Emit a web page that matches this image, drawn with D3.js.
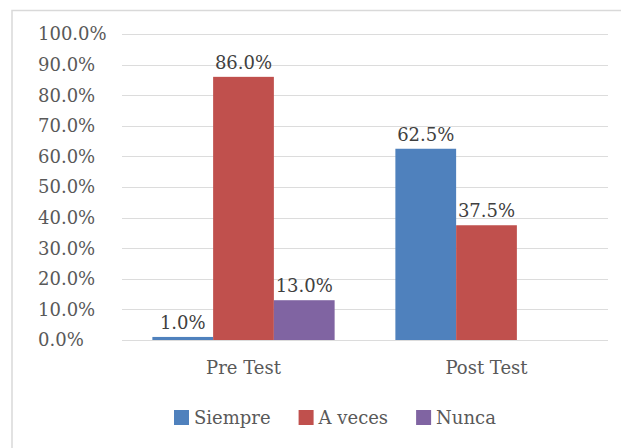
<!DOCTYPE html>
<html>
<head>
<meta charset="utf-8">
<script src="https://cdn.jsdelivr.net/npm/d3@7"></script>
<style>
  body { margin: 0; background: #fff; }
  svg { display: block; }
  text { font-family: "DejaVu Serif", serif; }
</style>
</head>
<body>
<div id="chart"></div>
<script>
// Data
const categories = ['Pre Test', 'Post Test'];
const seriesNames = ['Siempre', 'A veces', 'Nunca'];
const siempre = [1.0, 62.5];
const aVeces = [86.0, 37.5];
const nunca = [13.0, 0];
const yTicks = [0, 10, 20, 30, 40, 50, 60, 70, 80, 90, 100];
const colors = ['#4F81BD', '#C0504D', '#8064A2'];

const seriesValues = [siempre, aVeces, nunca];

const W = 621, H = 448;
const MARGIN = { left: 122, right: 13, top: 34, bottom: 108 };
const width = W - MARGIN.left - MARGIN.right;
const height = H - MARGIN.top - MARGIN.bottom;

const svg = d3.select('#chart').append('svg')
    .attr('width', W)
    .attr('height', H);

// Chart area border (right/bottom edges run off the picture)
svg.append('rect')
    .attr('x', 12)
    .attr('y', 10.5)
    .attr('width', 700)
    .attr('height', 600)
    .attr('fill', '#fff')
    .attr('stroke', '#d9d9d9')
    .attr('stroke-width', 1.5);

const g = svg.append('g')
    .attr('transform', `translate(${MARGIN.left},${MARGIN.top})`);

// Scales
const x0 = d3.scaleBand()
    .domain(categories)
    .range([0, width])
    .paddingInner(0)
    .paddingOuter(0);

const x1 = d3.scaleBand()
    .domain(seriesNames)
    .range([0, x0.bandwidth()])
    .paddingOuter(0.5)
    .paddingInner(0);

const y = d3.scaleLinear()
    .domain([0, 100])
    .range([height, 0]);

// Grid lines
g.append('g')
    .selectAll('line')
    .data(yTicks)
    .enter().append('line')
    .attr('x1', 0)
    .attr('x2', width)
    .attr('y1', d => Math.round(y(d)) + 0.5)
    .attr('y2', d => Math.round(y(d)) + 0.5)
    .attr('stroke', '#dcdcdc')
    .attr('stroke-width', 1.2);

// Y labels (left aligned like the original)
g.append('g')
    .selectAll('text')
    .data(yTicks)
    .enter().append('text')
    .attr('x', 38 - MARGIN.left)
    .attr('y', d => y(d))
    .attr('dy', '0.36em')
    .attr('font-size', '18px')
    .attr('fill', '#595959')
    .text(d => d.toFixed(1) + '%');

// Bars
const rows = categories.map((c, i) => ({
    cat: c,
    values: seriesNames.map((s, j) => ({ key: s, value: seriesValues[j][i], color: colors[j] }))
}));

const groups = g.selectAll('.group')
    .data(rows)
    .enter().append('g')
    .attr('class', 'group')
    .attr('transform', d => `translate(${x0(d.cat)},0)`);

groups.selectAll('rect')
    .data(d => d.values)
    .enter().append('rect')
    .attr('x', d => x1(d.key))
    .attr('y', d => y(d.value))
    .attr('width', x1.bandwidth())
    .attr('height', d => height - y(d.value))
    .attr('fill', d => d.color);

// Data labels
groups.selectAll('.label')
    .data(d => d.values.filter(v => v.value > 0))
    .enter().append('text')
    .attr('class', 'label')
    .attr('x', d => x1(d.key) + x1.bandwidth() / 2)
    .attr('y', d => y(d.value) - 8)
    .attr('text-anchor', 'middle')
    .attr('font-size', '18px')
    .attr('fill', '#404040')
    .text(d => d.value.toFixed(1) + '%');

// X labels
g.append('g')
    .selectAll('text')
    .data(categories)
    .enter().append('text')
    .attr('x', d => x0(d) + x0.bandwidth() / 2)
    .attr('y', height + 34)
    .attr('text-anchor', 'middle')
    .attr('font-size', '18px')
    .attr('fill', '#595959')
    .text(d => d);

// Legend
const legend = svg.append('g')
    .attr('transform', 'translate(174, 410)');

let lx = 0;
seriesNames.forEach((s, i) => {
    const item = legend.append('g')
        .attr('transform', `translate(${lx},0)`);
    item.append('rect')
        .attr('width', 15)
        .attr('height', 15)
        .attr('fill', colors[i]);
    const t = item.append('text')
        .attr('x', 20)
        .attr('y', 8)
        .attr('dy', '0.36em')
        .attr('font-size', '18px')
        .attr('fill', '#595959')
        .text(s);
    lx += 20 + t.node().getComputedTextLength() + 28;
});
</script>
</body>
</html>
